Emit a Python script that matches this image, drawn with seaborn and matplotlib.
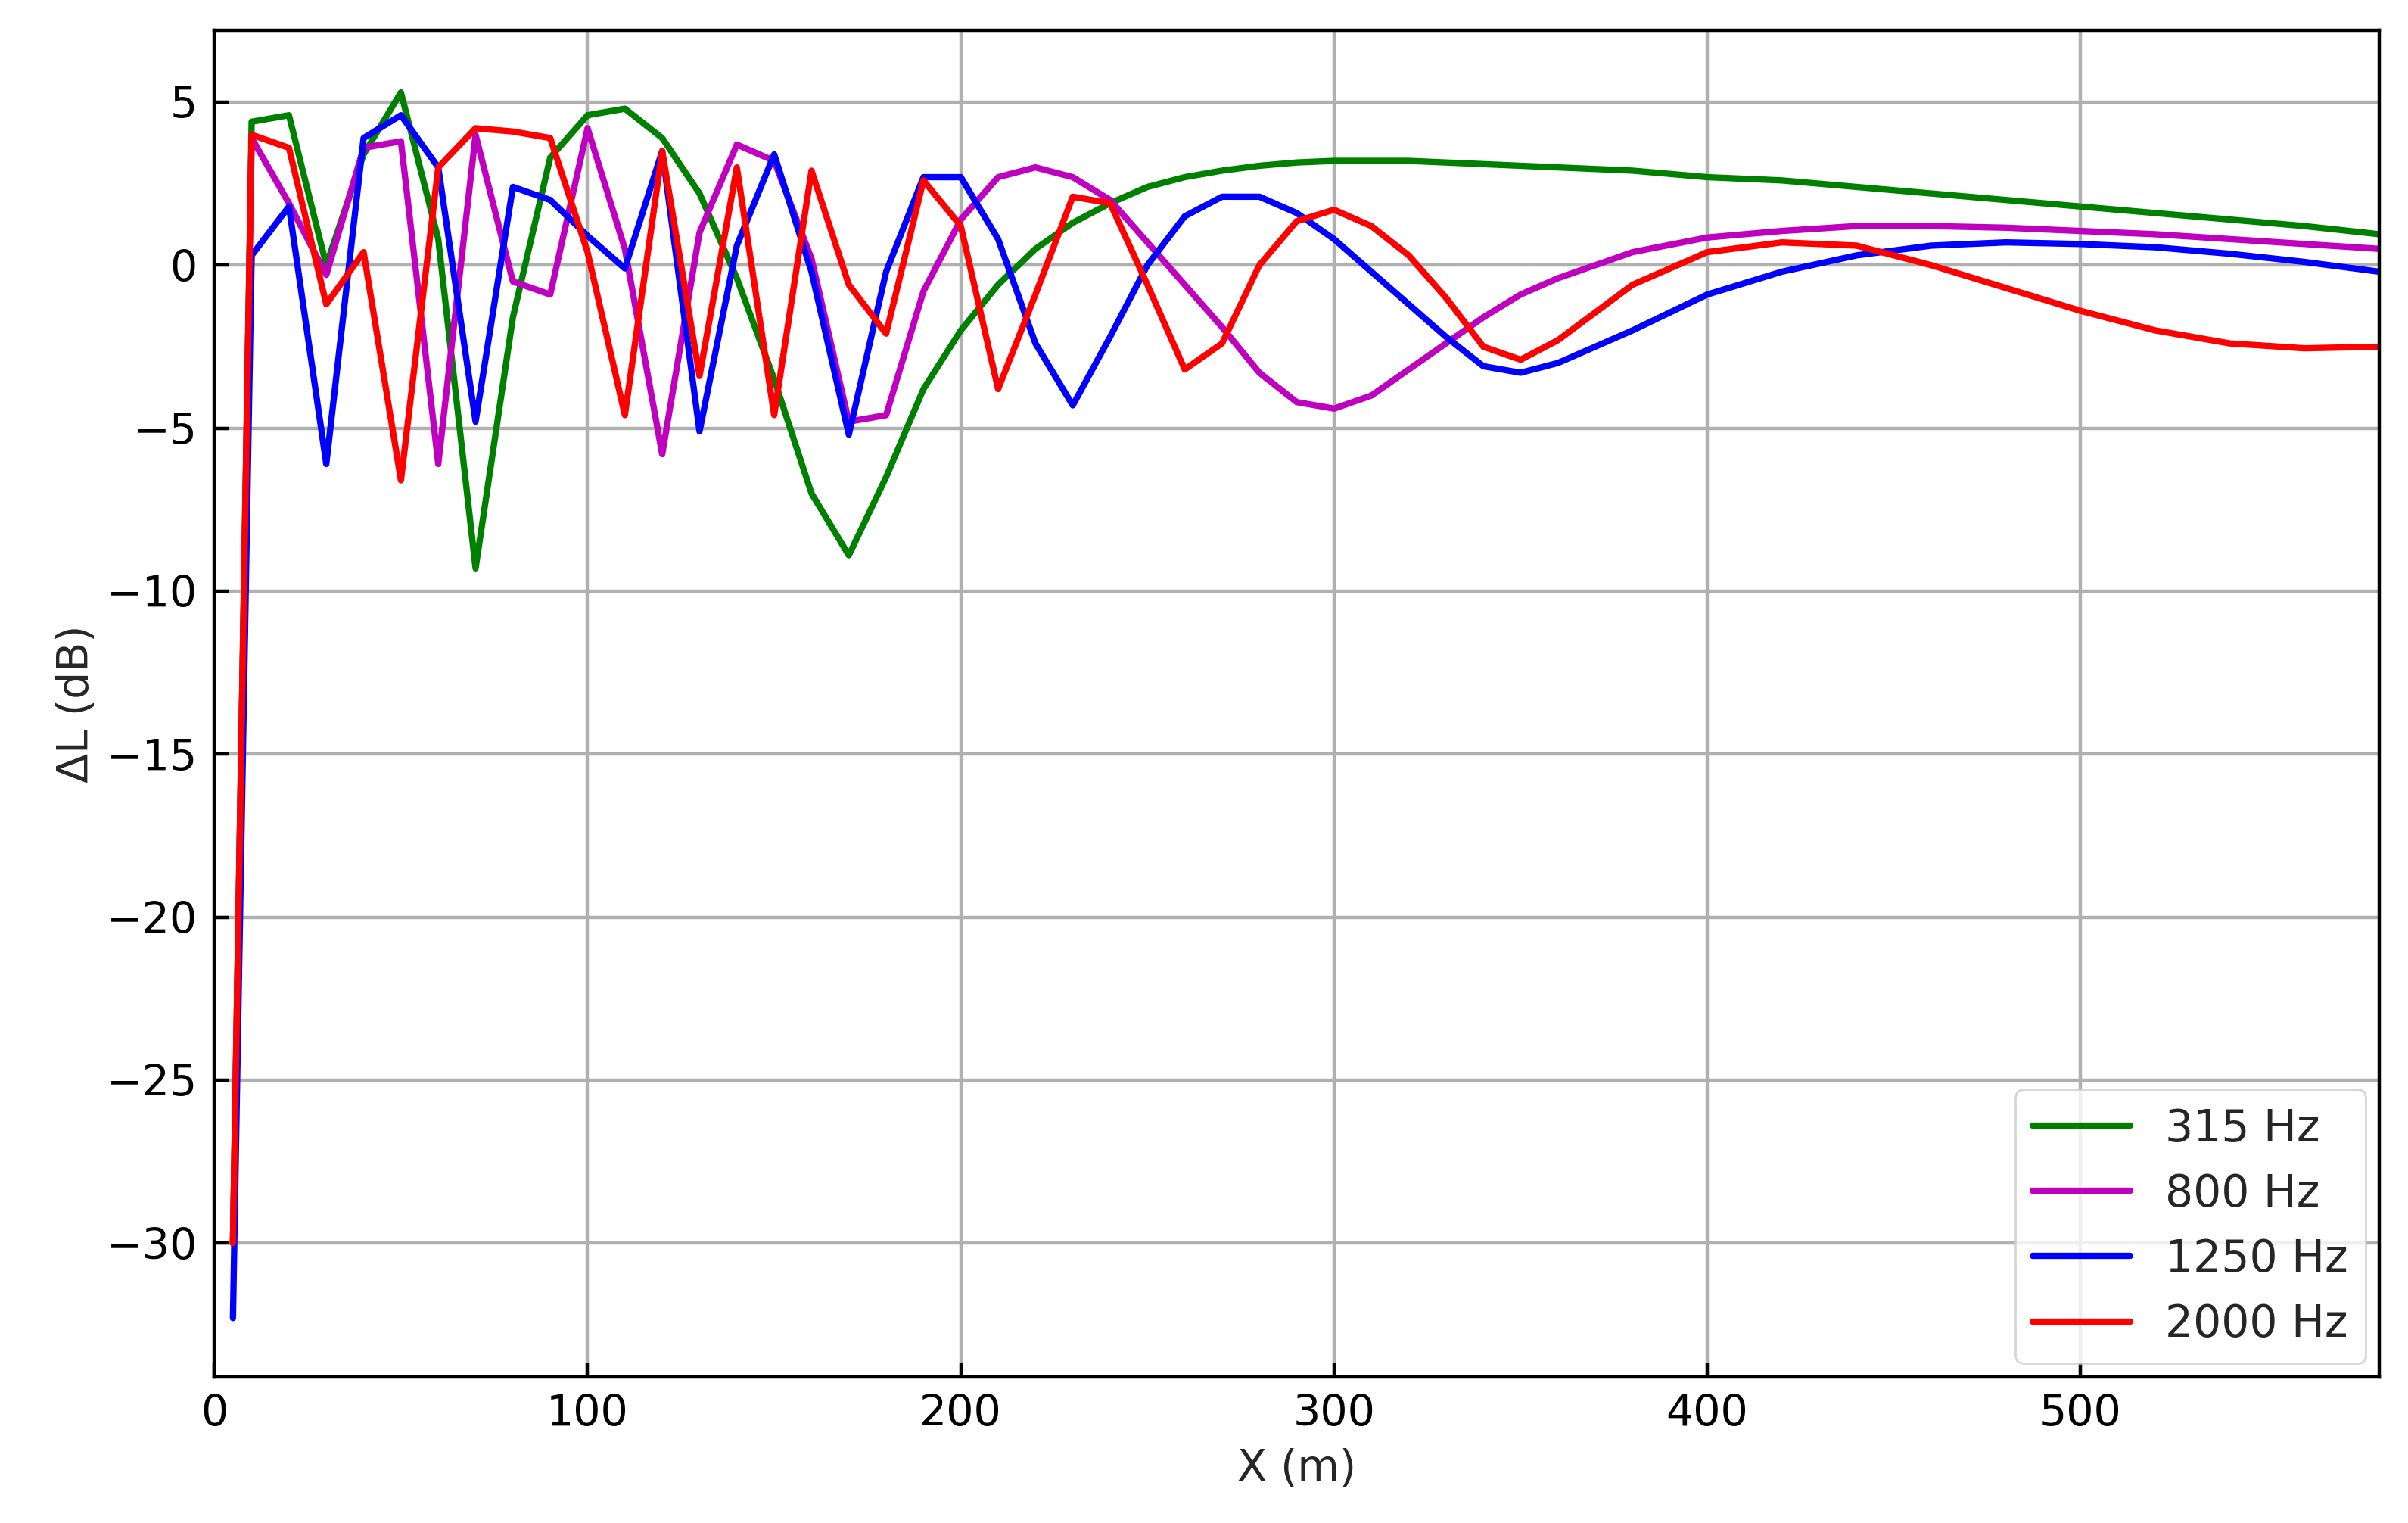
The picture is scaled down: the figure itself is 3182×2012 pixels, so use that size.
import numpy as np
import pandas as pd
import matplotlib
matplotlib.use("Agg")
import matplotlib.pyplot as plt
import seaborn as sns

x = [5] + list(range(10, 361, 10)) + list(range(380, 581, 20))

f315 = [-30, 4.4, 4.6, 0.0, 3.4, 5.3, 0.8, -9.3, -1.6, 3.3, 4.6, 4.8, 3.9, 2.2, -0.4, -3.5, -7.0, -8.9, -6.5, -3.8,
        -2.0, -0.6, 0.5, 1.3, 1.9, 2.4, 2.7, 2.9, 3.05, 3.15, 3.2, 3.2, 3.2, 3.15, 3.1, 3.05, 3.0,
        2.9, 2.7, 2.6, 2.4, 2.2, 2.0, 1.8, 1.6, 1.4, 1.2, 0.95]
f800 = [-30, 3.9, 1.9, -0.3, 3.6, 3.8, -6.1, 4.0, -0.5, -0.9, 4.2, 0.5, -5.8, 1.0, 3.7, 3.2, 0.2, -4.8, -4.6, -0.8,
        1.4, 2.7, 3.0, 2.7, 2.0, 0.7, -0.6, -1.9, -3.3, -4.2, -4.4, -4.0, -3.2, -2.4, -1.6, -0.9, -0.4,
        0.4, 0.85, 1.05, 1.2, 1.2, 1.15, 1.05, 0.95, 0.8, 0.65, 0.5]
f1250 = [-32.3, 0.3, 1.8, -6.1, 3.9, 4.6, 3.0, -4.8, 2.4, 2.0, 0.9, -0.1, 3.5, -5.1, 0.6, 3.4, -0.2, -5.2, -0.2, 2.7,
         2.7, 0.8, -2.4, -4.3, -2.2, 0.0, 1.5, 2.1, 2.1, 1.6, 0.8, -0.2, -1.2, -2.2, -3.1, -3.3, -3.0,
         -2.0, -0.9, -0.2, 0.3, 0.6, 0.7, 0.65, 0.55, 0.35, 0.1, -0.2]
f2000 = [-30, 4.0, 3.6, -1.2, 0.4, -6.6, 3.0, 4.2, 4.1, 3.9, 0.4, -4.6, 3.5, -3.4, 3.0, -4.6, 2.9, -0.6, -2.1, 2.6,
         1.2, -3.8, -0.9, 2.1, 1.9, -0.6, -3.2, -2.4, 0.0, 1.35, 1.7, 1.2, 0.3, -1.0, -2.5, -2.9, -2.3,
         -0.6, 0.4, 0.7, 0.6, 0.0, -0.7, -1.4, -2.0, -2.4, -2.55, -2.5]

labels = ["315 Hz", "800 Hz", "1250 Hz", "2000 Hz"]
colors = ["green", "#bf00bf", "blue", "red"]

df = pd.concat([pd.DataFrame({"x": x, "y": v, "f": l}) for v, l in zip([f315, f800, f1250, f2000], labels)])

sns.set_theme(style="whitegrid")
plt.rcParams["font.family"] = ["DejaVu Sans"]
fig = plt.figure(figsize=(15.91, 10.06), dpi=200)
ax = fig.add_axes([0.089, 0.096, 0.899, 0.884])
sns.lineplot(data=df, x="x", y="y", hue="f", palette=colors, linewidth=3.0, ax=ax, sort=False)
ax.set_xlim(0, 580)
ax.set_ylim(-34.1, 7.2)
ax.set_yticks([5, 0, -5, -10, -15, -20, -25, -30])
ax.set_xticks([0, 100, 200, 300, 400, 500])
ax.grid(True, color="#b0b0b0", linewidth=1.6)
for s in ax.spines.values():
    s.set_color("black")
    s.set_linewidth(1.6)
ax.tick_params(direction="in", length=7, width=1.6, colors="black", labelsize=20.5, left=True, bottom=True, pad=8)
ax.set_xlabel("X (m)", fontsize=20.5, labelpad=6)
ax.set_ylabel("ΔL (dB)", fontsize=20.5, labelpad=4)
leg = ax.legend(loc="lower right", fontsize=21, frameon=True, handlelength=2.2, borderaxespad=0.3)
leg.get_frame().set_edgecolor("#cccccc")
fig.savefig("out.png", dpi=200)
